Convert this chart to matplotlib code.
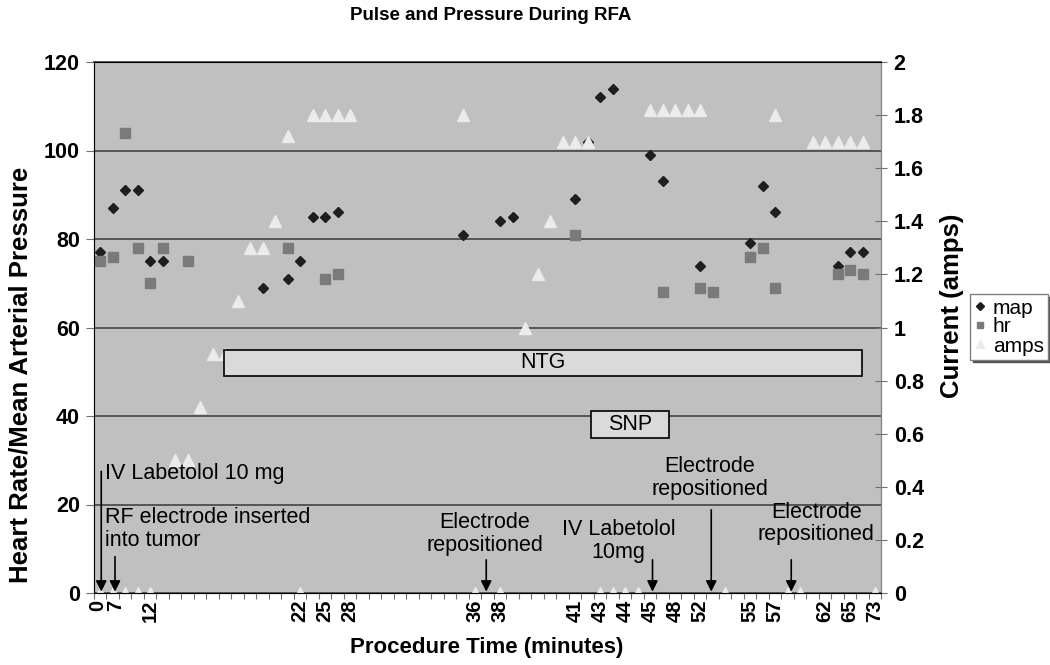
import matplotlib
matplotlib.use('Agg')
import matplotlib.pyplot as plt
from matplotlib.patches import Rectangle

plt.rcParams['font.family'] = ['Liberation Sans', 'DejaVu Sans']

# readings, placed by category slot (63 slots on the x axis, only some labelled)
map_pos = [0, 1, 2, 3, 4, 5, 13, 15, 16, 17, 18, 19, 29, 32, 33, 38, 39, 40, 41, 44, 45, 48, 52, 53, 54, 59, 60, 61]
map_val = [77, 87, 91, 91, 75, 75, 69, 71, 75, 85, 85, 86, 81, 84, 85, 89, 102, 112, 114, 99, 93, 74, 79, 92, 86, 74, 77, 77]

hr_pos = [0, 1, 2, 3, 4, 5, 7, 15, 18, 19, 38, 45, 48, 49, 52, 53, 54, 59, 60, 61]
hr_val = [75, 76, 104, 78, 70, 78, 75, 78, 71, 72, 81, 68, 69, 68, 76, 78, 69, 72, 73, 72]

amps_pos = [0, 1, 2, 3, 4, 6, 7, 8, 9, 10, 11, 12, 13, 14, 15, 16, 17, 18, 19, 20,
            29, 30, 32, 34, 35, 36, 37, 38, 39, 40, 41, 42, 43, 44, 45, 46, 47, 48,
            50, 54, 55, 56, 57, 58, 59, 60, 61, 62]
amps_val = [0, 0, 0, 0, 0, 0.5, 0.5, 0.7, 0.9, 0.9, 1.1, 1.3, 1.3, 1.4, 1.72, 0, 1.8, 1.8, 1.8, 1.8,
            1.8, 0, 0, 1.0, 1.2, 1.4, 1.7, 1.7, 1.7, 0, 0, 0, 0, 1.82, 1.82, 1.82, 1.82, 1.82,
            0, 1.8, 0, 0, 1.7, 1.7, 1.7, 1.7, 1.7, 0]

n_slots = 63
time_labels = ['0', '7', '12', '22', '25', '28', '36', '38', '41', '43', '44', '45',
               '48', '52', '55', '57', '62', '65', '73']
time_label_pos = [-0.15, 1.25, 4, 16, 18, 20, 30, 32, 38, 40, 42, 44, 46, 48, 52, 54, 58, 60, 62]

W, H = 1050, 665
fig = plt.figure(figsize=(W / 100, H / 100), dpi=100)
ax = fig.add_axes([93.75 / W, 1 - 593 / H, 787.5 / W, 531 / H])
ax.set_facecolor('#c0c0c0')
ax.set_xlim(-0.5, n_slots - 0.5)
ax.set_ylim(0, 120)
ax.set_yticks(range(0, 121, 20))
ax.yaxis.grid(True, color='#555555', lw=1.4)
ax.set_axisbelow(True)

# category boundary ticks, labels sit on separate (minor) ticks
ax.set_xticks([i - 0.5 for i in range(n_slots + 1)])
ax.set_xticklabels([])
ax.set_xticks(time_label_pos, time_labels, minor=True)
ax.tick_params(axis='x', which='major', length=4, color='#707070')
ax.tick_params(axis='x', which='minor', length=0, pad=5, labelsize=14.5, labelrotation=90)
ax.tick_params(axis='y', length=6, color='#707070', labelsize=15.5, pad=4)
for t in ax.get_xticklabels(minor=True) + ax.get_yticklabels():
    t.set_fontweight('bold')

for s in ['left', 'bottom', 'right']:
    ax.spines[s].set_color('#808080')
ax.spines['top'].set_color('#555555')
ax.spines['top'].set_linewidth(1.4)

l_map, = ax.plot(map_pos, map_val, 'D', ms=5.5, color='#1e1e1e', ls='none')
l_hr, = ax.plot(hr_pos, hr_val, 's', ms=6.5, color='#7a7a7a', ls='none')

ax2 = ax.twinx()
ax2.set_ylim(0, 2)
ax2.set_yticks([0, 0.2, 0.4, 0.6, 0.8, 1, 1.2, 1.4, 1.6, 1.8, 2])
ax2.set_yticklabels(['0', '0.2', '0.4', '0.6', '0.8', '1', '1.2', '1.4', '1.6', '1.8', '2'])
ax2.tick_params(axis='y', direction='inout', length=8, color='#707070', labelsize=15.5, pad=5)
for t in ax2.get_yticklabels():
    t.set_fontweight('bold')
ax2.spines['right'].set_color('#808080')
l_amps, = ax2.plot(amps_pos, amps_val, '^', ms=8, color='#ebebeb', ls='none')

# drug infusion boxes, drawn above the markers
tr = ax.transData
ax2.add_patch(Rectangle((9.92, 49), 51.0, 6, transform=tr, facecolor='#dadada',
                        edgecolor='black', lw=1.2, zorder=5))
ax2.text(35.4, 52, 'NTG', transform=tr, ha='center', va='center', fontsize=15.5, zorder=6)
ax2.add_patch(Rectangle((39.25, 35.1), 6.25, 6, transform=tr, facecolor='#dadada',
                        edgecolor='black', lw=1.2, zorder=5))
ax2.text(42.4, 38.1, 'SNP', transform=tr, ha='center', va='center', fontsize=15.5, zorder=6)

# event notes and arrows
arrow = dict(arrowstyle='-|>', color='black', lw=1.2, mutation_scale=16, shrinkA=0, shrinkB=0)
for x, y0 in [(0.1, 27.5), (1.2, 8.2), (30.9, 7.5), (44.2, 7.5), (48.9, 18.8), (55.3, 7.5)]:
    ax2.annotate('', xy=(x, 0.3), xytext=(x, y0), xycoords=tr, textcoords=tr,
                 arrowprops=arrow, zorder=6)

note = dict(transform=tr, fontsize=15.5, linespacing=1.1, va='center', zorder=6)
ax2.text(0.4, 27.1, 'IV Labetolol 10 mg', ha='left', **note)
ax2.text(0.4, 14.5, 'RF electrode inserted\ninto tumor', ha='left', **note)
ax2.text(30.8, 13.3, 'Electrode\nrepositioned', ha='center', **note)
ax2.text(41.5, 11.8, 'IV Labetolol\n10mg', ha='center', **note)
ax2.text(48.8, 26.0, 'Electrode\nrepositioned', ha='center', **note)
ax2.text(57.3, 15.75, 'Electrode\nrepositioned', ha='center', **note)

ax.set_ylabel('Heart Rate/Mean Arterial Pressure', fontsize=18.5, fontweight='bold')
ax.yaxis.set_label_coords(-0.0784, 0.41)
ax2.set_ylabel('Current (amps)', fontsize=18.5, fontweight='bold')
ax2.yaxis.set_label_coords(1.0746, 0.54)
fig.text(487 / W, 1 - 648 / H, 'Procedure Time (minutes)', ha='center', va='center',
         fontsize=16, fontweight='bold')
fig.text(491 / W, 1 - 15 / H, 'Pulse and Pressure During RFA', ha='center', va='center',
         fontsize=13.5, fontweight='bold')

fig.legend([l_map, l_hr, l_amps], ['map', 'hr', 'amps'], loc='center left',
           bbox_to_anchor=(970 / W, 1 - 327 / H), bbox_transform=fig.transFigure,
           fontsize=15, frameon=True, fancybox=False, edgecolor='#808080', framealpha=1,
           labelspacing=0.0, borderpad=0.2, handletextpad=0.3, handlelength=0.6,
           borderaxespad=0, markerscale=0.7, shadow={'color': '#505050', 'alpha': 1})

fig.savefig('out.png', dpi=100)
